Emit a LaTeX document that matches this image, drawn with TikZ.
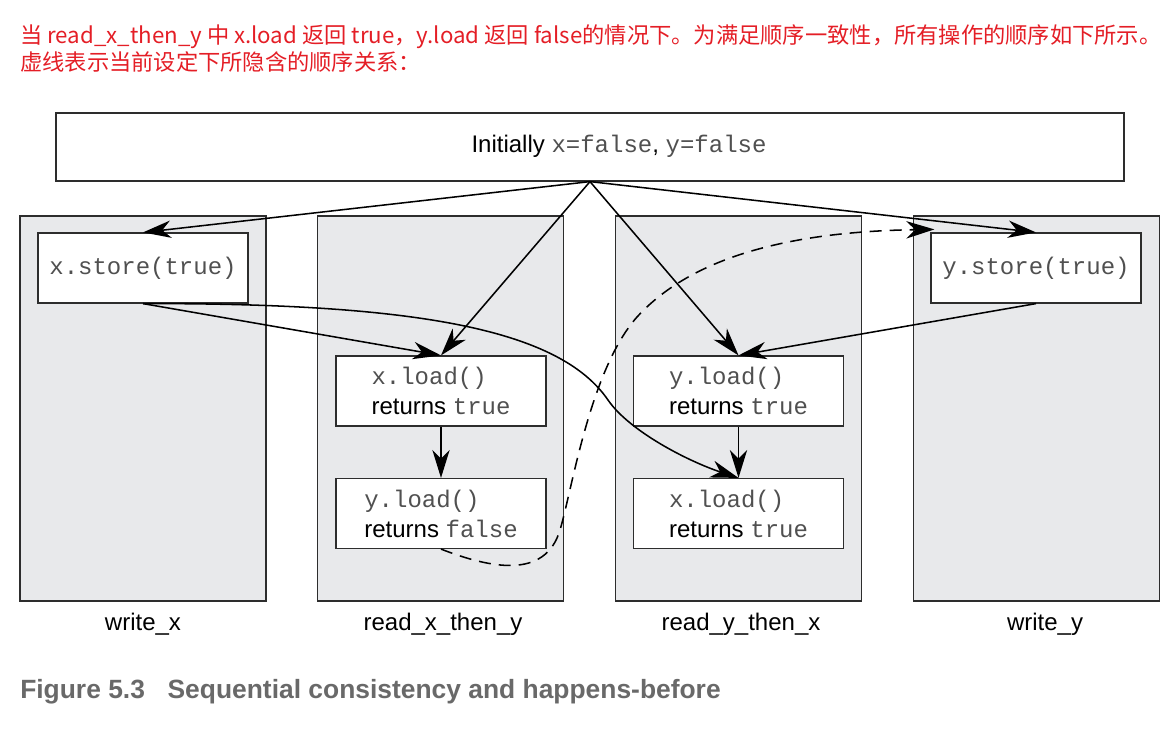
\documentclass[tikz,border=0pt]{standalone}
\usepackage{fontspec}
\setmainfont{Liberation Sans}
\setmonofont{Liberation Mono}
\newfontfamily\cjkfont{Noto Sans CJK SC}
\usetikzlibrary{arrows.meta}
\definecolor{lanefill}{RGB}{232,233,235}
\definecolor{boxline}{RGB}{45,45,45}
\definecolor{monogray}{RGB}{80,80,80}
\definecolor{capgray}{RGB}{105,105,105}
\definecolor{notered}{RGB}{228,30,38}
\newcommand{\cw}[1]{{\ttfamily\color{monogray}#1}}
\begin{document}
\begin{tikzpicture}[x=0.75pt,y=-0.75pt,
  lane/.style={draw=boxline, fill=lanefill, line width=0.9pt, minimum width=184.5pt, minimum height=288.75pt, inner sep=0pt},
  opbox/.style={draw=boxline, fill=white, line width=0.9pt, minimum width=157.5pt, minimum height=52.5pt, inner sep=0pt, align=left, font=\fontsize{18}{22.5}\selectfont},
  topbox/.style={draw=boxline, fill=white, line width=0.9pt, minimum width=801pt, minimum height=51pt, inner sep=0pt},
  conn/.style={line width=1.15pt, -{Stealth[length=21pt,width=13pt,inset=6.5pt]}},
  implied/.style={conn, dash pattern=on 9pt off 6pt},
  plain/.style={inner sep=0pt, anchor=base, font=\fontsize{18}{22}\selectfont},
  note/.style={inner sep=0pt, anchor=base west, text=notered, font=\cjkfont\fontsize{16.7}{20}\selectfont},
]
\useasboundingbox (0,0) rectangle (1175,736);

% notes
\node[note] (n1) at (20,43) {当 read\_x\_then\_y 中 x.load 返回 true，y.load 返回 false的情况下。为满足顺序一致性，所有操作的顺序如下所示。};
\node[note] (n2) at (20,70) {虚线表示当前设定下所隐含的顺序关系：};

% top box
\node[topbox] (init) at (590,147) {};
\node[plain] (inittext) at (619,152) {Initially \cw{x=false}, \cw{y=false}};

% lanes
\node[lane] (lwx) at (143,408.5) {};
\node[lane] (lrxy) at (440.5,408.5) {};
\node[lane] (lryx) at (738.5,408.5) {};
\node[lane] (lwy) at (1036.5,408.5) {};

\node[plain] (twx) at (143,630) {write\_x};
\node[plain] (trxy) at (443,630) {read\_x\_then\_y};
\node[plain] (tryx) at (741,630) {read\_y\_then\_x};
\node[plain] (twy) at (1045,630) {write\_y};

% operation boxes
\node[opbox] (xstore) at (143,268) {\cw{x.store(true)}};
\node[opbox] (ystore) at (1036,268) {\cw{y.store(true)}};
\node[opbox] (xl1) at (441,391) {\cw{x.load()}\\returns \cw{true}};
\node[opbox] (yl1) at (441,513.5) {\cw{y.load()}\\returns \cw{false}};
\node[opbox] (yl2) at (738.5,391) {\cw{y.load()}\\returns \cw{true}};
\node[opbox] (xl2) at (738.5,513.5) {\cw{x.load()}\\returns \cw{true}};

% connectors
\draw[conn] (init.south) -- (xstore.north);
\draw[conn] (init.south) -- (xl1.north);
\draw[conn] (init.south) -- (yl2.north);
\draw[conn] (init.south) -- (ystore.north);
\draw[conn] (xstore.south) -- (xl1.north);
\draw[conn] (ystore.south) -- (yl2.north);
\draw[conn] (xl1.south) -- (yl1.north);
\draw[conn] (yl2.south) -- (xl2.north);
\draw[conn] (xstore.south) .. controls (420,303) and (560,330) .. (608,400)
  .. controls (630,432) and (690,462) .. (xl2.north);
\draw[implied] (yl1.south) .. controls (490,568) and (545,580) .. (560,530)
  .. controls (572,490) and (590,370) .. (637,317)
  .. controls (680,270) and (760,232) .. ([shift={(4,-3)}]ystore.north west);

% caption
\node[inner sep=0pt, anchor=base west, text=capgray, font=\bfseries\fontsize{19.8}{24}\selectfont] (cap) at (20,698) {Figure 5.3\hspace{17pt}Sequential consistency and happens-before};
\end{tikzpicture}
\end{document}
